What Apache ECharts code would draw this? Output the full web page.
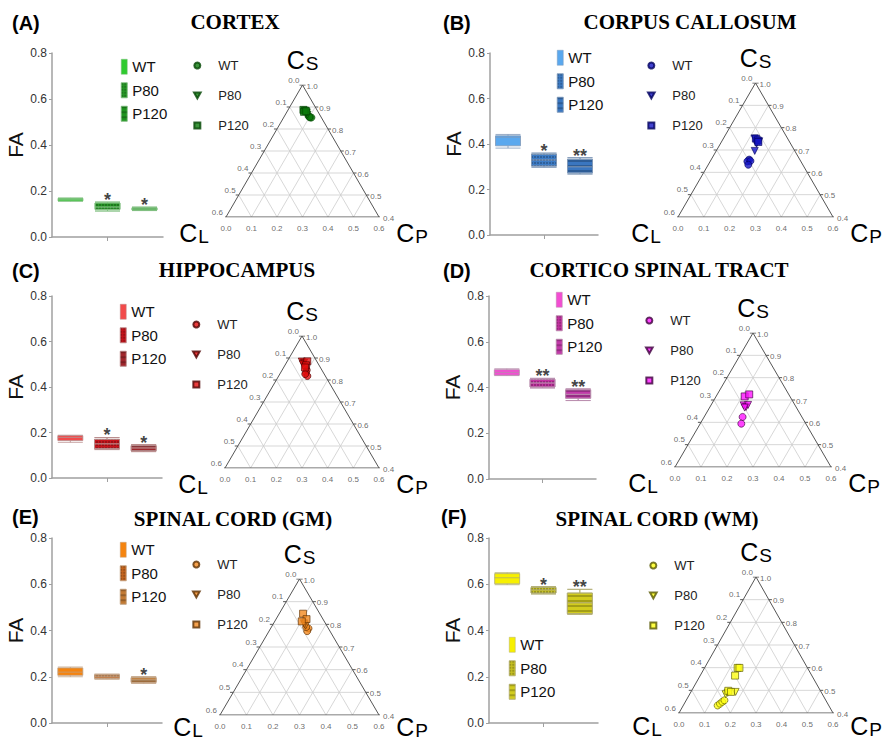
<!DOCTYPE html>
<html>
<head>
<meta charset="utf-8">
<script src="https://cdn.jsdelivr.net/npm/echarts@6/dist/echarts.min.js"></script>
<style>
  html, body { margin: 0; padding: 0; background: #fff; }
  #chart { width: 883px; height: 742px; }
</style>
</head>
<body>
<div id="chart"></div>
<script>
// ---------------- data ----------------
const groups = ['WT', 'P80', 'P120'];
const panelLetters = ['(A)', '(B)', '(C)', '(D)', '(E)', '(F)'];
const panelTitles = ['CORTEX', 'CORPUS CALLOSUM', 'HIPPOCAMPUS', 'CORTICO SPINAL TRACT', 'SPINAL CORD (GM)', 'SPINAL CORD (WM)'];
const faAxisTicks = [0.0, 0.2, 0.4, 0.6, 0.8];

// FA box statistics [min, Q1, median, Q3, max] for WT, P80, P120
const faCortex = [[0.155, 0.157, 0.163, 0.168, 0.170], [0.113, 0.120, 0.130, 0.148, 0.152], [0.115, 0.117, 0.122, 0.127, 0.130]];
const faCorpusCallosum = [[0.382, 0.392, 0.430, 0.436, 0.442], [0.298, 0.303, 0.330, 0.355, 0.360], [0.268, 0.273, 0.300, 0.333, 0.340]];
const faHippocampus = [[0.157, 0.165, 0.178, 0.186, 0.188], [0.125, 0.130, 0.150, 0.170, 0.178], [0.116, 0.120, 0.132, 0.142, 0.147]];
const faCorticoSpinal = [[0.452, 0.454, 0.466, 0.478, 0.482], [0.398, 0.402, 0.420, 0.436, 0.440], [0.343, 0.353, 0.370, 0.390, 0.394]];
const faSpinalGM = [[0.200, 0.206, 0.220, 0.238, 0.242], [0.190, 0.194, 0.202, 0.208, 0.211], [0.172, 0.176, 0.186, 0.196, 0.200]];
const faSpinalWM = [[0.598, 0.602, 0.628, 0.646, 0.650], [0.558, 0.562, 0.576, 0.586, 0.590], [0.470, 0.473, 0.520, 0.562, 0.578]];

// significance against WT
const sigCortex = ['', '*', '*'];
const sigCorpusCallosum = ['', '*', '**'];
const sigHippocampus = ['', '*', '*'];
const sigCorticoSpinal = ['', '**', '**'];
const sigSpinalGM = ['', '', '*'];
const sigSpinalWM = ['', '*', '**'];

// ternary shape coefficients [CL, CP, CS] per animal
const terCortexWT = [[0.047, 0.094, 0.859], [0.044, 0.104, 0.852], [0.039, 0.109, 0.852], [0.045, 0.100, 0.855]];
const terCortexP80 = [[0.051, 0.077, 0.872], [0.048, 0.087, 0.865], [0.046, 0.079, 0.875]];
const terCortexP120 = [[0.053, 0.060, 0.887], [0.048, 0.068, 0.884], [0.055, 0.067, 0.878], [0.045, 0.074, 0.881]];

const terCorpusCallosumWT = [[0.196, 0.147, 0.657], [0.207, 0.144, 0.649], [0.194, 0.155, 0.651], [0.211, 0.155, 0.634]];
const terCorpusCallosumP80 = [[0.128, 0.120, 0.752], [0.116, 0.145, 0.739], [0.132, 0.140, 0.728], [0.155, 0.149, 0.696]];
const terCorpusCallosumP120 = [[0.123, 0.126, 0.751], [0.120, 0.137, 0.743], [0.121, 0.143, 0.736]];

const terHippocampusWT = [[0.059, 0.096, 0.845], [0.068, 0.099, 0.833], [0.070, 0.112, 0.818], [0.074, 0.099, 0.827]];
const terHippocampusP80 = [[0.059, 0.057, 0.884], [0.053, 0.069, 0.878], [0.061, 0.067, 0.872]];
const terHippocampusP120 = [[0.037, 0.078, 0.885], [0.051, 0.082, 0.867], [0.060, 0.083, 0.857]];

const terCorticoSpinalWT = [[0.228, 0.148, 0.624], [0.248, 0.158, 0.594]];
const terCorticoSpinalP80 = [[0.198, 0.126, 0.676], [0.192, 0.139, 0.669], [0.180, 0.142, 0.678], [0.199, 0.135, 0.666]];
const terCorticoSpinalP120 = [[0.174, 0.110, 0.716], [0.152, 0.123, 0.725]];

const terSpinalGMWT = [[0.075, 0.143, 0.782], [0.086, 0.144, 0.770], [0.081, 0.131, 0.788]];
const terSpinalGMP80 = [[0.081, 0.114, 0.805], [0.080, 0.126, 0.794], [0.081, 0.119, 0.800]];
const terSpinalGMP120 = [[0.063, 0.090, 0.847], [0.062, 0.115, 0.823], [0.085, 0.102, 0.813]];

const terSpinalWMWT = [[0.433, 0.134, 0.433], [0.420, 0.139, 0.441], [0.407, 0.144, 0.449], [0.395, 0.149, 0.456]];
const terSpinalWMP80 = [[0.377, 0.140, 0.483], [0.333, 0.174, 0.493], [0.366, 0.145, 0.489]];
const terSpinalWMP120 = [[0.272, 0.129, 0.599], [0.265, 0.136, 0.599], [0.299, 0.136, 0.565], [0.359, 0.143, 0.498], [0.351, 0.156, 0.493]];

// ternary axis ticks
const clTicks = [0.0, 0.1, 0.2, 0.3, 0.4, 0.5, 0.6];
const csTicks = [1.0, 0.9, 0.8, 0.7, 0.6, 0.5, 0.4];
const cpTicks = [0.0, 0.1, 0.2, 0.3, 0.4, 0.5, 0.6];

// ---------------- panel wiring ----------------
const panelData = [
  { fa: faCortex, sig: sigCortex, ter: [terCortexWT, terCortexP80, terCortexP120] },
  { fa: faCorpusCallosum, sig: sigCorpusCallosum, ter: [terCorpusCallosumWT, terCorpusCallosumP80, terCorpusCallosumP120] },
  { fa: faHippocampus, sig: sigHippocampus, ter: [terHippocampusWT, terHippocampusP80, terHippocampusP120] },
  { fa: faCorticoSpinal, sig: sigCorticoSpinal, ter: [terCorticoSpinalWT, terCorticoSpinalP80, terCorticoSpinalP120] },
  { fa: faSpinalGM, sig: sigSpinalGM, ter: [terSpinalGMWT, terSpinalGMP80, terSpinalGMP120] },
  { fa: faSpinalWM, sig: sigSpinalWM, ter: [terSpinalWMWT, terSpinalWMP80, terSpinalWMP120] }
];

// layout of each panel (pixels)
const panelLayout = [
  { box: { left: 52, top: 53, width: 111, height: 184 }, tern: { left: 226, top: 85, width: 153, height: 132 },
    boxLegend: { left: 121, top: 59 }, ternLegend: { left: 193, top: 59 }, letter: [12, 23], title: [235, 22], cBottom: 16 },
  { box: { left: 490, top: 53, width: 108, height: 182 }, tern: { left: 678, top: 83, width: 155, height: 134 },
    boxLegend: { left: 557, top: 50 }, ternLegend: { left: 647, top: 59 }, letter: [443, 23], title: [690, 22], cBottom: 16 },
  { box: { left: 52, top: 296, width: 110, height: 182 }, tern: { left: 225, top: 336, width: 154, height: 132 },
    boxLegend: { left: 120, top: 304 }, ternLegend: { left: 192, top: 318 }, letter: [12, 271], title: [237, 270], cBottom: 16 },
  { box: { left: 489, top: 296, width: 107, height: 183 }, tern: { left: 675, top: 333, width: 156, height: 134 },
    boxLegend: { left: 556, top: 292 }, ternLegend: { left: 645, top: 314 }, letter: [443, 271], title: [659, 270], cBottom: 16 },
  { box: { left: 52, top: 538, width: 110, height: 185 }, tern: { left: 220, top: 579, width: 159, height: 136 },
    boxLegend: { left: 120, top: 542 }, ternLegend: { left: 192, top: 558 }, letter: [12, 517], title: [233, 519], cBottom: 12 },
  { box: { left: 489, top: 538, width: 109, height: 185 }, tern: { left: 679, top: 577, width: 154, height: 136 },
    boxLegend: { left: 509, top: 637 }, ternLegend: { left: 649, top: 559 }, letter: [441, 517], title: [657, 519], cBottom: 13 }
];

// colours of each panel: box fills (WT, P80, P120), box outline and ternary marker fill / outline
const panelColors = [
  { box: ['#2fcb2f', '#279a27', '#1e941e'], edge: '#7fbf7f', marker: '#0c7a0c', outline: '#034503' },
  { box: ['#5aa8ee', '#3d7cc6', '#3a76c0'], edge: '#7f98b8', marker: '#1414c4', outline: '#00005c' },
  { box: ['#f24a4a', '#c8141c', '#a0262c'], edge: '#b88a8a', marker: '#e40c0c', outline: '#4c0000' },
  { box: ['#f24ed2', '#c432a2', '#c23aaa'], edge: '#b88aac', marker: '#ff14ff', outline: '#3c003c' },
  { box: ['#f5840f', '#c8661e', '#c27a34'], edge: '#c0a080', marker: '#f28a20', outline: '#5c2e00' },
  { box: ['#f7f000', '#c8c222', '#d2cc1e'], edge: '#b0ac70', marker: '#ffff14', outline: '#585800' }
];

const boxDecals = [
  null,
  { symbol: 'rect', symbolSize: 1, dashArrayX: [2, 1], dashArrayY: [2, 1], color: 'rgba(0,0,0,0.22)' },
  { symbol: 'rect', symbolSize: 1, dashArrayX: [1, 0], dashArrayY: [2, 3], color: 'rgba(0,0,0,0.22)' }
];

const SANS = '"Liberation Sans", Arial, sans-serif';
const SERIF = '"Liberation Serif", "Times New Roman", serif';
const H = Math.sqrt(3) / 2;

// ternary (CL, CP, CS) -> plane; CS runs 0.4..1, CL and CP 0..0.6
function toXY(cl, cp, cs) { return [(cp - cl) / 2, (cs - 0.4) * H]; }

function ternaryGridLines() {
  const d = [];
  clTicks.slice(1, -1).forEach(k => { d.push(toXY(k, 0, 1 - k), toXY(k, 0.6 - k, 0.4), '-'); });
  cpTicks.slice(1, -1).forEach(k => { d.push(toXY(0, k, 1 - k), toXY(0.6 - k, k, 0.4), '-'); });
  csTicks.slice(1, -1).forEach(k => { d.push(toXY(1 - k, 0, k), toXY(0, 1 - k, k), '-'); });
  return d;
}

function ternaryFrame() {
  const d = [toXY(0, 0, 1), toXY(0.6, 0, 0.4), toXY(0, 0.6, 0.4), toXY(0, 0, 1), '-'];
  const t = 0.012;
  clTicks.forEach(k => { const p = toXY(k, 0, 1 - k); d.push(p, [p[0] - t, p[1]], '-'); });
  csTicks.forEach(k => { const p = toXY(0, 1 - k, k); d.push(p, [p[0] + t, p[1]], '-'); });
  return d;
}

const grids = [], xAxes = [], yAxes = [], series = [], legends = [], graphics = [];
const markerShapes = ['circle', 'triangle', 'rect'];
const legendShapes = ['circle', 'path://M0,0L10,0L5,9Z', 'path://M0,0L10,0L10,10L0,10Z'];
const nameOf = (g, i, suffix) => g + '|' + i + suffix;

panelData.forEach((pd, i) => {
  const L = panelLayout[i], C = panelColors[i];

  // ---- box plot of FA ----
  const gBox = grids.length;
  grids.push(Object.assign({ containLabel: false, outerBoundsMode: 'none' }, L.box));
  const xBase = xAxes.length;
  groups.forEach((g, gi) => {
    xAxes.push({
      type: 'category', gridIndex: gBox, data: groups, show: gi === 0,
      axisLabel: { show: false },
      axisLine: { show: true, lineStyle: { color: '#a0a0a0', width: 1.5 } },
      axisTick: { show: true, alignWithLabel: true, interval: (idx) => idx === 1, length: 4, lineStyle: { color: '#a0a0a0' } },
      splitLine: { show: false }
    });
  });
  const yBox = yAxes.length;
  yAxes.push({
    type: 'value', gridIndex: gBox, min: faAxisTicks[0], max: faAxisTicks[faAxisTicks.length - 1], interval: faAxisTicks[1] - faAxisTicks[0],
    name: 'FA', nameLocation: 'middle', nameGap: 22, nameRotate: 90,
    nameTextStyle: { fontSize: 21, color: '#111', fontFamily: SANS },
    axisLine: { show: true, lineStyle: { color: '#a0a0a0', width: 1.5 } },
    axisTick: { show: true, length: 3, lineStyle: { color: '#a0a0a0' } },
    axisLabel: { formatter: v => v.toFixed(1), fontSize: 12, color: '#333', fontFamily: SANS, margin: 5 },
    splitLine: { show: false }
  });
  groups.forEach((g, gi) => {
    series.push({
      type: 'boxplot', name: nameOf(g, i, 'b'), xAxisIndex: xBase + gi, yAxisIndex: yBox,
      boxWidth: [25, 25], silent: true,
      data: groups.map((_, j) => (j === gi ? pd.fa[j] : '-')),
      itemStyle: { color: C.box[gi], borderColor: C.edge, borderWidth: 0.8, decal: boxDecals[gi] || undefined }
    });
  });
  series.push({
    type: 'scatter', xAxisIndex: xBase, yAxisIndex: yBox, symbolSize: 0.1, silent: true,
    itemStyle: { color: 'rgba(0,0,0,0)' },
    data: groups.map((g, j) => [j, pd.fa[j][4], pd.sig[j]]),
    label: { show: true, position: 'top', distance: 0, offset: [0, 7], formatter: p => p.value[2],
             fontSize: 18, fontWeight: 'bold', color: '#111', fontFamily: SANS }
  });
  legends.push({
    orient: 'vertical', left: L.boxLegend.left, top: L.boxLegend.top, padding: 0,
    itemWidth: 6, itemHeight: 15, itemGap: 8, selectedMode: false,
    formatter: n => n.split('|')[0],
    textStyle: { fontSize: 15, color: '#111', fontFamily: SANS },
    data: groups.map((g, gi) => ({ name: nameOf(g, i, 'b'), icon: 'rect',
      itemStyle: { color: C.box[gi], borderColor: C.edge, borderWidth: 0.5 } }))
  });

  // ---- ternary plot of CL / CP / CS ----
  const gTer = grids.length;
  grids.push(Object.assign({ containLabel: false, outerBoundsMode: 'none' }, L.tern));
  const xTer = xAxes.length;
  xAxes.push({ type: 'value', gridIndex: gTer, min: -0.3, max: 0.3, show: false });
  const yTer = yAxes.length;
  yAxes.push({ type: 'value', gridIndex: gTer, min: 0, max: 0.6 * H, show: false });

  series.push({
    type: 'line', xAxisIndex: xTer, yAxisIndex: yTer, data: ternaryGridLines(), symbol: 'none', silent: true,
    connectNulls: false, lineStyle: { color: '#cdcdcd', width: 0.8 }, z: 1
  });
  series.push({
    type: 'line', xAxisIndex: xTer, yAxisIndex: yTer, data: ternaryFrame(), symbol: 'none', silent: true,
    connectNulls: false, lineStyle: { color: '#555', width: 1 }, z: 2
  });
  const tickLabel = (data, position, distance, offset) => ({
    type: 'scatter', xAxisIndex: xTer, yAxisIndex: yTer, symbolSize: 0.1, silent: true,
    itemStyle: { color: 'rgba(0,0,0,0)' }, data,
    label: { show: true, position, distance, offset, formatter: p => p.value[2].toFixed(1),
             fontSize: 8, color: '#444', fontFamily: SANS, textBorderWidth: 0 }
  });
  series.push(tickLabel(clTicks.map(k => toXY(k, 0, 1 - k).concat([k])), 'left', 3, [0, -5]));
  series.push(tickLabel(csTicks.map(k => toXY(0, 1 - k, k).concat([k])), 'right', 4, [0, 1]));
  series.push(tickLabel(cpTicks.map(k => toXY(0.6 - k, k, 0.4).concat([k])), 'bottom', 7, [0, 0]));

  groups.forEach((g, gi) => {
    series.push({
      type: 'scatter', name: nameOf(g, i, 't'), xAxisIndex: xTer, yAxisIndex: yTer, silent: true,
      symbol: markerShapes[gi], symbolRotate: gi === 1 ? 180 : 0, symbolSize: 7, z: 5,
      itemStyle: { color: C.marker, borderColor: C.outline, borderWidth: 0.8 },
      data: pd.ter[gi].map(v => toXY(v[0], v[1], v[2]))
    });
  });
  legends.push({
    orient: 'vertical', left: L.ternLegend.left, top: L.ternLegend.top, padding: 0,
    itemWidth: 32, itemHeight: 6, itemGap: 17, selectedMode: false,
    formatter: n => n.split('|')[0],
    textStyle: { fontSize: 13, color: '#222', fontFamily: SANS },
    data: groups.map((g, gi) => ({ name: nameOf(g, i, 't'), icon: legendShapes[gi] }))
  });

  // ---- panel texts ----
  graphics.push({
    type: 'text', x: L.letter[0], y: L.letter[1], silent: true,
    style: { text: panelLetters[i], fill: '#000', fontSize: 20, fontWeight: 'bold', fontFamily: SANS,
             align: 'left', verticalAlign: 'middle', textAlign: 'left', textVerticalAlign: 'middle' }
  });
  graphics.push({
    type: 'text', x: L.title[0], y: L.title[1], silent: true,
    style: { text: panelTitles[i], fill: '#000', fontSize: 21, fontWeight: 'bold', fontFamily: SERIF,
             align: 'center', verticalAlign: 'middle', textAlign: 'center', textVerticalAlign: 'middle' }
  });
  const T = L.tern;
  const axisTitle = (x, y, sub) => ({
    type: 'text', x, y, silent: true,
    style: {
      text: '{c|C}{s|' + sub + '}', align: 'center', verticalAlign: 'middle', textAlign: 'center', textVerticalAlign: 'middle',
      rich: {
        c: { fontSize: 25, lineHeight: 25, fontFamily: SANS, fill: '#000', color: '#000', verticalAlign: 'top' },
        s: { fontSize: 19, lineHeight: 19, padding: [6, 0, 0, 1], fontFamily: SANS, fill: '#000', color: '#000', verticalAlign: 'top' }
      }
    }
  });
  graphics.push(axisTitle(T.left + T.width / 2, T.top - 25, 'S'));
  graphics.push(axisTitle(T.left - 32, T.top + T.height + L.cBottom, 'L'));
  graphics.push(axisTitle(T.left + T.width + 33, T.top + T.height + L.cBottom, 'P'));
});

const chart = echarts.init(document.getElementById('chart'), null, { renderer: 'svg', width: 883, height: 742 });
chart.setOption({
  animation: false,
  backgroundColor: '#ffffff',
  grid: grids,
  xAxis: xAxes,
  yAxis: yAxes,
  legend: legends,
  series: series,
  graphic: { elements: graphics }
});
</script>
</body>
</html>
